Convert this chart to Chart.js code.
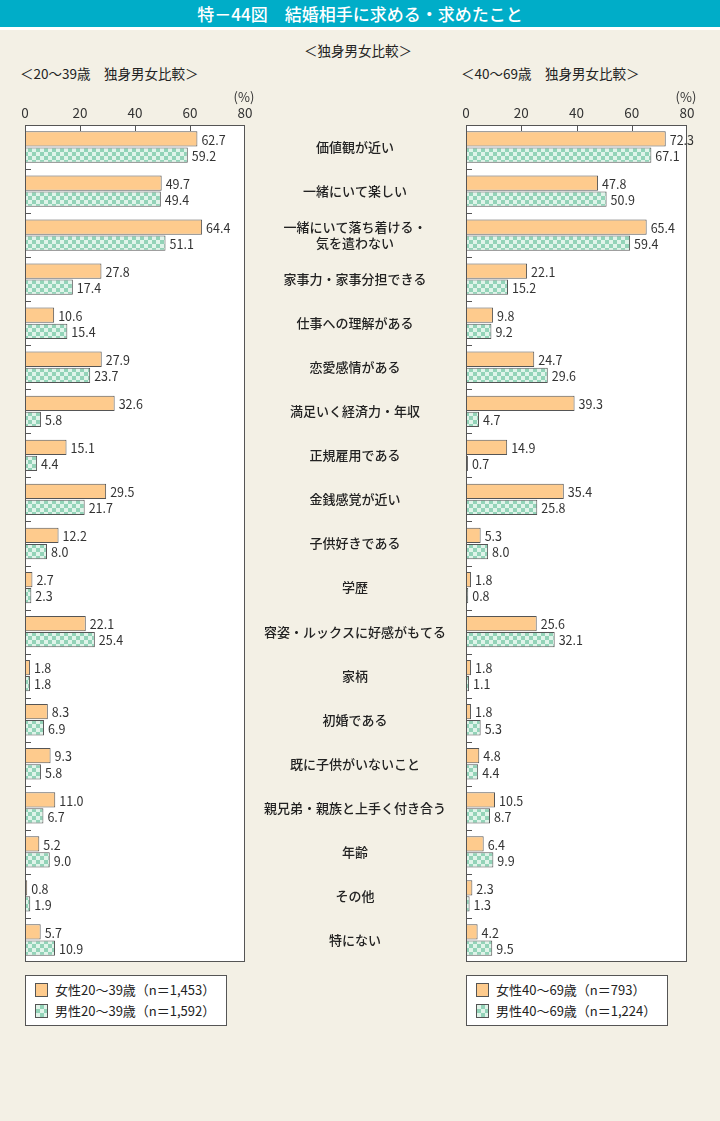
<!DOCTYPE html>
<html lang="ja">
<head>
<meta charset="utf-8">
<script src="https://cdn.jsdelivr.net/npm/chart.js@4.4.1/dist/chart.umd.min.js"></script>
<style>
  body {
    margin: 0;
    width: 720px;
    height: 1121px;
    background: #f3f0e5;
    position: relative;
    overflow: hidden;
    font-family: "Noto Sans CJK JP", "Noto Sans", sans-serif;
    color: #333;
  }
  #titleBar {
    position: absolute; left: 0; top: 0; width: 720px; height: 27px;
    background: #00adc8; border-bottom: 3px solid #fff;
    color: #fff; font-size: 17px; font-weight: 500; line-height: 27px; text-align: center;
  }
  .sub { position: absolute; font-size: 13.5px; line-height: 16px; white-space: nowrap; color: #222; }
  .wrap { position: absolute; }
  .legend {
    position: absolute; top: 975px; width: 200px; height: 49px;
    background: #fff; border: 1px solid #555; font-size: 13px; color: #222;
  }
  .legend div { position: relative; height: 21px; line-height: 21px; padding-left: 29px; margin-top: 3px; white-space: nowrap; }
  .legend div + div { margin-top: 0; }
  .legend span {
    position: absolute; left: 9px; top: 4px; width: 11px; height: 12px; border: 1px solid #555;
  }
</style>
</head>
<body>
<div id="titleBar">特－44図　結婚相手に求める・求めたこと</div>
<div class="sub" style="left:0;width:716px;text-align:center;top:42px">＜独身男女比較＞</div>
<div class="sub" style="left:20px;top:65px">＜20～39歳　独身男女比較＞</div>
<div class="sub" style="left:461px;top:65px">＜40～69歳　独身男女比較＞</div>

<div class="wrap" style="left:0;top:80px;width:260px;height:890px"><canvas id="chartLeft"></canvas></div>
<div class="wrap" style="left:245px;top:80px;width:475px;height:890px"><canvas id="chartRight"></canvas></div>

<div class="legend" id="legendLeft" style="left:25px"></div>
<div class="legend" id="legendRight" style="left:466px"></div>

<script>
const categories = [
  "価値観が近い",
  "一緒にいて楽しい",
  ["一緒にいて落ち着ける・", "気を遣わない"],
  "家事力・家事分担できる",
  "仕事への理解がある",
  "恋愛感情がある",
  "満足いく経済力・年収",
  "正規雇用である",
  "金銭感覚が近い",
  "子供好きである",
  "学歴",
  "容姿・ルックスに好感がもてる",
  "家柄",
  "初婚である",
  "既に子供がいないこと",
  "親兄弟・親族と上手く付き合う",
  "年齢",
  "その他",
  "特にない"
];
const women2039 = [62.7, 49.7, 64.4, 27.8, 10.6, 27.9, 32.6, 15.1, 29.5, 12.2, 2.7, 22.1, 1.8, 8.3, 9.3, 11.0, 5.2, 0.8, 5.7];
const men2039 = [59.2, 49.4, 51.1, 17.4, 15.4, 23.7, 5.8, 4.4, 21.7, 8.0, 2.3, 25.4, 1.8, 6.9, 5.8, 6.7, 9.0, 1.9, 10.9];
const women4069 = [72.3, 47.8, 65.4, 22.1, 9.8, 24.7, 39.3, 14.9, 35.4, 5.3, 1.8, 25.6, 1.8, 1.8, 4.8, 10.5, 6.4, 2.3, 4.2];
const men4069 = [67.1, 50.9, 59.4, 15.2, 9.2, 29.6, 4.7, 0.7, 25.8, 8.0, 0.8, 32.1, 1.1, 5.3, 4.4, 8.7, 9.9, 1.3, 9.5];
const xTicks = [0, 20, 40, 60, 80];
const legendLeft = ["女性20～39歳（n＝1,453）", "男性20～39歳（n＝1,592）"];
const legendRight = ["女性40～69歳（n＝793）", "男性40～69歳（n＝1,224）"];

const orange = "#fecb8d";
const lineColor = "#555";
const jpFont = '"Noto Sans CJK JP", "Noto Sans", sans-serif';

// checkered fill for the men series
function makeChecker() {
  const c = document.createElement("canvas");
  c.width = 8;
  c.height = 8;
  const g = c.getContext("2d");
  g.fillStyle = "#e0f4ea";
  g.fillRect(0, 0, 8, 8);
  g.fillStyle = "#93d3b8";
  g.fillRect(0, 0, 4, 4);
  g.fillRect(4, 4, 4, 4);
  return g.createPattern(c, "repeat");
}
const checker = makeChecker();

const frame = {
  id: "frame",
  beforeDraw(chart) {
    const a = chart.chartArea;
    chart.ctx.save();
    chart.ctx.fillStyle = "#fff";
    chart.ctx.fillRect(a.left, a.top, a.right - a.left, a.bottom - a.top);
    chart.ctx.restore();
  },
  afterDatasetsDraw(chart) {
    const ctx = chart.ctx;
    const a = chart.chartArea;
    const x = chart.scales.x;
    const y = chart.scales.y;
    ctx.save();
    ctx.strokeStyle = lineColor;
    ctx.lineWidth = 1;
    ctx.strokeRect(a.left + 0.5, a.top + 0.5, a.right - a.left - 1, a.bottom - a.top - 1);
    ctx.beginPath();
    xTicks.slice(1, -1).forEach(v => {
      const px = Math.round(x.getPixelForValue(v)) + 0.5;
      ctx.moveTo(px, a.top);
      ctx.lineTo(px, a.top + 6);
    });
    for (let i = 0; i < categories.length - 1; i++) {
      const py = Math.round((y.getPixelForValue(i) + y.getPixelForValue(i + 1)) / 2) + 0.5;
      ctx.moveTo(a.left, py);
      ctx.lineTo(a.left + 6, py);
    }
    ctx.stroke();

    // value labels
    ctx.fillStyle = "#333";
    ctx.font = "12.5px " + jpFont;
    ctx.textBaseline = "middle";
    ctx.textAlign = "left";
    chart.data.datasets.forEach((ds, di) => {
      chart.getDatasetMeta(di).data.forEach((bar, i) => {
        ctx.fillText(ds.data[i].toFixed(1), bar.x + 4, bar.y + 1);
      });
    });

    // (%) unit above the 80 tick
    ctx.font = "13px " + jpFont;
    ctx.textAlign = "center";
    ctx.fillText("(%)", x.getPixelForValue(80) - 1, a.top - 28);
    ctx.restore();
  }
};

function makeChart(id, women, men, showLabels, padding) {
  return new Chart(document.getElementById(id), {
    type: "bar",
    data: {
      labels: categories,
      datasets: [
        { data: women, backgroundColor: orange, borderColor: lineColor, borderWidth: 1 },
        { data: men, backgroundColor: checker, borderColor: lineColor, borderWidth: 1 }
      ]
    },
    options: {
      indexAxis: "y",
      responsive: true,
      maintainAspectRatio: false,
      animation: false,
      layout: { padding: padding },
      categoryPercentage: 0.73,
      barPercentage: 0.95,
      plugins: { legend: { display: false }, tooltip: { enabled: false } },
      scales: {
        x: {
          position: "top",
          min: xTicks[0],
          max: xTicks[xTicks.length - 1],
          afterFit(scale) { scale.height = 45; },
          grid: { display: false, drawTicks: false },
          border: { display: false },
          ticks: {
            stepSize: 20,
            padding: 4,
            color: "#333",
            font: { family: jpFont, size: 13.5 }
          }
        },
        y: {
          display: showLabels,
          afterFit(scale) {
            scale.paddingTop = 0;
            scale.paddingBottom = 0;
            if (showLabels) scale.width = 221;
          },
          grid: { display: false, drawTicks: false },
          border: { display: false },
          ticks: {
            crossAlign: "center",
            padding: 20,
            color: "#222",
            font: { family: jpFont, size: 13, weight: "500", lineHeight: 1.25 }
          }
        }
      }
    },
    plugins: [frame]
  });
}

makeChart("chartLeft", women2039, men2039, false, { left: 25, right: 15, top: 0, bottom: 8 });
makeChart("chartRight", women4069, men4069, true, { left: 0, right: 33, top: 0, bottom: 8 });

function fillLegend(id, labels) {
  const box = document.getElementById(id);
  const swatches = [orange, "repeating-conic-gradient(#93d3b8 0 25%, #e0f4ea 0 50%) 0 0 / 8px 8px"];
  labels.forEach((text, i) => {
    const row = document.createElement("div");
    const sw = document.createElement("span");
    sw.style.background = swatches[i];
    row.appendChild(sw);
    row.appendChild(document.createTextNode(text));
    box.appendChild(row);
  });
}
fillLegend("legendLeft", legendLeft);
fillLegend("legendRight", legendRight);
</script>
</body>
</html>
